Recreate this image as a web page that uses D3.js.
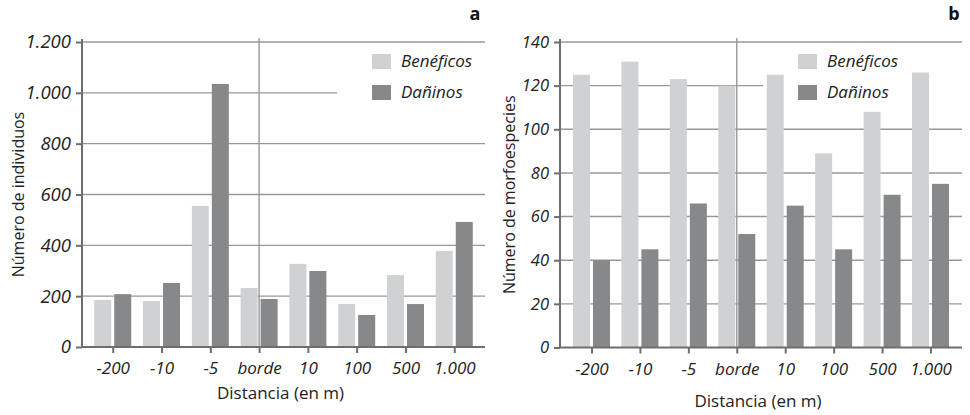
<!DOCTYPE html>
<html>
<head>
<meta charset="utf-8">
<script src="https://cdn.jsdelivr.net/npm/d3@7"></script>
<style>
  html, body { margin: 0; padding: 0; background: #fff; }
  svg { display: block; font-family: "Open Sans", "Noto Sans", sans-serif; }
</style>
</head>
<body>
<svg id="chart" width="970" height="415"></svg>
<script>
// Distance classes from the forest edge (m)
const categories = ["-200", "-10", "-5", "borde", "10", "100", "500", "1.000"];
const seriesNames = ["Benéficos", "Dañinos"];

// Panel a: number of individuals
const individuosBeneficos = [185, 181, 555, 232, 327, 169, 283, 378];
const individuosDaninos   = [208, 252, 1035, 189, 299, 126, 169, 492];
const individuosTicks = [0, 200, 400, 600, 800, 1000, 1200];

// Panel b: number of morphospecies
const morfoBeneficos = [125, 131, 123, 120, 125, 89, 108, 126];
const morfoDaninos   = [40, 45, 66, 52, 65, 45, 70, 75];
const morfoTicks = [0, 20, 40, 60, 80, 100, 120, 140];

const colors = { "Benéficos": "#d0d1d3", "Dañinos": "#87888a" };
const axisColor = "#6e6e6e";
const gridColor = "#989898";

const esLocale = d3.formatLocale({ decimal: ",", thousands: ".", grouping: [3], currency: ["", " €"] });
const fmt = esLocale.format(",d");

const svg = d3.select("#chart");

function drawPanel(opt) {
  const { x0, x1, yTop, yBot, benef, danin, ticks, yMax, yTitle, yTitleX, xTitleY,
          letter, letterX, legendX, yLabelSize, xPad } = opt;
  const g = svg.append("g");

  const x = d3.scalePoint().domain(categories).range([x0, x1]).padding(xPad);
  const xs = d3.scaleBand().domain(seriesNames).range([-18.5, 18.5]).paddingInner(0.15);
  const y = d3.scaleLinear().domain([0, yMax]).range([yBot, yTop]);

  const legendTop = 54, legendRow = 31, sw = 19, sh = 15;
  const legendBottom = legendTop + legendRow + sh;

  // horizontal gridlines, shortened where they would run into the legend
  g.append("g").selectAll("line").data(ticks.filter(d => d > 0)).join("line")
    .attr("x1", x0).attr("x2", d => {
      const yy = y(d);
      return (yy > legendTop - 2 && yy < legendBottom + 2) ? legendX - 35 : x1;
    })
    .attr("y1", d => y(d)).attr("y2", d => y(d))
    .attr("stroke", gridColor).attr("stroke-width", 1.4);

  // vertical reference line at the edge
  g.append("line")
    .attr("x1", x("borde")).attr("x2", x("borde"))
    .attr("y1", yTop - 4).attr("y2", yBot)
    .attr("stroke", gridColor).attr("stroke-width", 1.4);

  // bars
  const rows = categories.map((c, i) => ({ cat: c, vals: [
    { s: "Benéficos", v: benef[i] }, { s: "Dañinos", v: danin[i] } ] }));
  g.append("g").selectAll("g").data(rows).join("g")
    .attr("transform", d => `translate(${x(d.cat)},0)`)
    .selectAll("rect").data(d => d.vals).join("rect")
      .attr("x", d => xs(d.s)).attr("width", xs.bandwidth())
      .attr("y", d => y(d.v)).attr("height", d => yBot - y(d.v))
      .attr("fill", d => colors[d.s]);

  // y axis
  const ya = g.append("g").attr("transform", `translate(${x0},0)`)
    .call(d3.axisLeft(y).tickValues(ticks).tickFormat(fmt).tickSize(6).tickSizeOuter(0).tickPadding(5));
  ya.select(".domain").attr("d", `M0,${yTop - 3}V${yBot}`);
  ya.selectAll("line, path").attr("stroke", axisColor).attr("stroke-width", 2);
  ya.selectAll("text").attr("font-size", yLabelSize).attr("font-style", "italic")
    .attr("fill", "#222").attr("font-family", "'Open Sans', sans-serif");

  // x axis
  const xa = g.append("g").attr("transform", `translate(0,${yBot})`)
    .call(d3.axisBottom(x).tickSize(6).tickSizeOuter(0).tickPadding(9));
  xa.select(".domain").attr("d", `M${x0},0H${x1}`);
  xa.selectAll("line, path").attr("stroke", axisColor).attr("stroke-width", 2);
  xa.selectAll("text").attr("font-size", 17).attr("font-style", "italic")
    .attr("fill", "#222").attr("font-family", "'Open Sans', sans-serif");

  // axis titles
  g.append("text")
    .attr("x", (x0 + x1) / 2 - 3).attr("y", xTitleY)
    .attr("text-anchor", "middle").attr("font-size", 17).attr("fill", "#222")
    .text("Distancia (en m)");
  g.append("text")
    .attr("transform", `translate(${yTitleX},${(yTop + yBot) / 2}) rotate(-90)`)
    .attr("text-anchor", "middle").attr("font-size", 16).attr("fill", "#222")
    .text(yTitle);

  // panel letter
  g.append("text").attr("x", letterX).attr("y", 20)
    .attr("text-anchor", "middle").attr("font-size", 18).attr("font-weight", "bold")
    .attr("fill", "#111").text(letter);

  // legend
  const lg = g.append("g").attr("transform", `translate(${legendX},${legendTop})`);
  seriesNames.forEach((s, i) => {
    lg.append("rect").attr("x", 0).attr("y", i * legendRow).attr("width", sw).attr("height", sh)
      .attr("fill", colors[s]);
    lg.append("text").attr("x", sw + 10).attr("y", i * legendRow + 13)
      .attr("font-size", 17).attr("font-style", "italic").attr("fill", "#222").text(s);
  });
}

drawPanel({
  x0: 82, x1: 485, yTop: 42, yBot: 347,
  benef: individuosBeneficos, danin: individuosDaninos, ticks: individuosTicks, yMax: 1200,
  yTitle: "Número de individuos", yTitleX: 24, xTitleY: 399,
  letter: "a", letterX: 475, legendX: 372, yLabelSize: 18.5, xPad: 0.63
});

drawPanel({
  x0: 560, x1: 962, yTop: 42, yBot: 347.5,
  benef: morfoBeneficos, danin: morfoDaninos, ticks: morfoTicks, yMax: 140,
  yTitle: "Número de morfoespecies", yTitleX: 515, xTitleY: 407,
  letter: "b", letterX: 954, legendX: 798, yLabelSize: 16.5, xPad: 0.65
});
</script>
</body>
</html>
